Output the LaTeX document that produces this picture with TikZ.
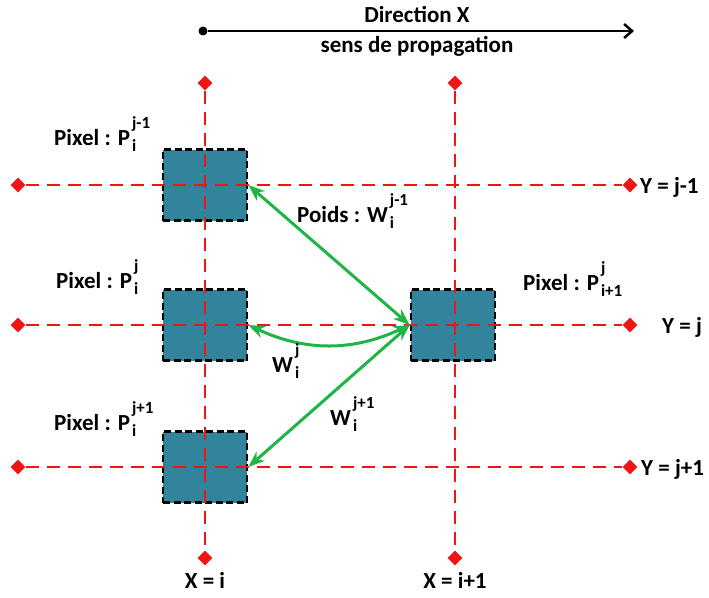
\documentclass[tikz,border=0pt]{standalone}
\usepackage{fontspec}
\setmainfont{Carlito}
\usepackage{tikz}
\usetikzlibrary{arrows.meta,positioning,shapes.geometric}

\definecolor{pixfill}{RGB}{49,132,155}
\definecolor{wgreen}{RGB}{30,180,70}
\definecolor{gridred}{RGB}{240,20,20}

\newcommand{\idxfont}{\fontsize{17}{20}\selectfont}
%% superscript above, subscript below, stacked after the letter
\newcommand{\idx}[2]{%
  \sbox0{\idxfont #1}\sbox2{\idxfont #2}%
  \dimen0=\wd0 \ifdim\wd2>\dimen0 \dimen0=\wd2\fi
  \kern2pt\rlap{\raisebox{17pt}{\usebox0}}\rlap{\raisebox{-6pt}{\usebox2}}\kern\dimen0}

\begin{document}
\begin{tikzpicture}[
  x=1pt, y=-1pt,
  >=Stealth,
  pixel/.style={draw=black, fill=pixfill, line width=2.6pt,
                dash pattern=on 7pt off 3.5pt, minimum width=84pt, minimum height=71pt},
  axis/.style={draw=gridred, line width=2.8pt, dash pattern=on 13pt off 8pt},
  tip/.style={diamond, fill=gridred, inner sep=0pt, minimum size=15pt},
  weight/.style={<->, draw=wgreen, line width=3pt},
  lbl/.style={font=\fontsize{23}{27}\selectfont\bfseries, inner sep=0pt, anchor=base west},
  dot/.style={circle, fill=black, inner sep=0pt, minimum size=9pt}
]
  \useasboundingbox (0,0) rectangle (709,597);
  %% Pixels
  \node[pixel] (pa) at (205,185) {};
  \node[pixel] (pb) at (205,325) {};
  \node[pixel] (pc) at (205,467) {};
  \node[pixel] (pd) at (453,325) {};
  %% Grid lines with diamond ends
  \node[tip] (xit) at (205,83) {};
  \node[tip] (xib) at (205,558) {};
  \node[tip] (xjt) at (455,83) {};
  \node[tip] (xjb) at (455,558) {};
  \node[tip] (ya) at (18,185) {};  \node[tip] (yae) at (630,185) {};
  \node[tip] (yb) at (18,325) {};  \node[tip] (ybe) at (630,325) {};
  \node[tip] (yc) at (18,467) {};  \node[tip] (yce) at (630,467) {};
  \draw[axis] (xit) -- (xib);
  \draw[axis] (xjt) -- (xjb);
  \draw[axis] (ya) -- (yae);
  \draw[axis] (yb) -- (ybe);
  \draw[axis] (yc) -- (yce);
  %% Weights
  \draw[weight] (pd.west) -- (pa.east);
  \draw[weight] (pd.west) to[bend left=25] (pb.east);
  \draw[weight] (pd.west) -- (pc.east);
  %% Propagation direction
  \node[dot] (xs) at (203,31) {};
  \coordinate (xe) at (634,31);
  \draw[line width=2.5pt, -{Straight Barb[length=8pt,width=14pt,line width=2.5pt]}] (xs) -- (xe);
  \node[lbl, anchor=base] (dir) at (417,23) {Direction X};
  \node[lbl, anchor=base] (sens) at (417,52) {sens de propagation};
  %% Labels
  \node[lbl] (la) at (54,145) {Pixel : P\idx{j-1}{i}};
  \node[lbl] (lb) at (56,288) {Pixel : P\idx{j}{i}};
  \node[lbl] (lc) at (54,430) {Pixel : P\idx{j+1}{i}};
  \node[lbl] (ld) at (523,290) {Pixel : P\idx{j}{i+1}};
  \node[lbl] (wa) at (297,222) {Poids : W\idx{j-1}{i}};
  \node[lbl] (wb) at (272,372) {W\idx{j}{i}};
  \node[lbl] (wc) at (330,425) {W\idx{j+1}{i}};
  \node[lbl] (ta) at (640,193) {Y = j-1};
  \node[lbl] (tb) at (662,333) {Y = j};
  \node[lbl] (tc) at (641,475) {Y = j+1};
  \node[lbl, anchor=base] (xa) at (205,588) {X = i};
  \node[lbl, anchor=base] (xb) at (455,588) {X = i+1};
\end{tikzpicture}
\end{document}
